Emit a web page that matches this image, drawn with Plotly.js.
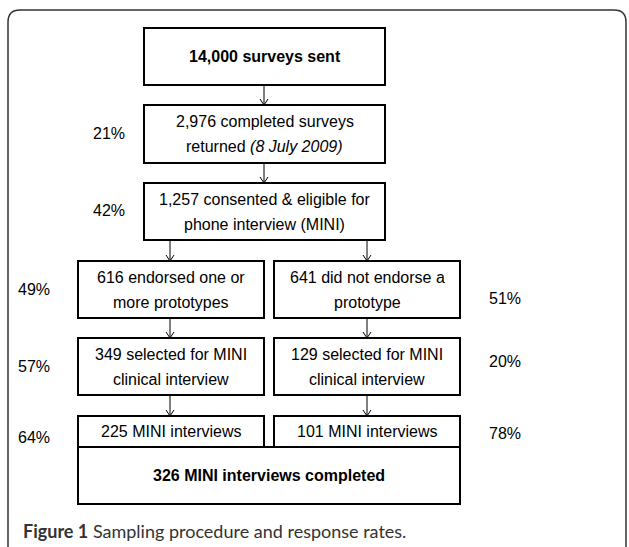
<!DOCTYPE html>
<html><head><meta charset="utf-8">
<script src="https://cdn.plot.ly/plotly-3.0.1.min.js"></script>
<style>html,body{margin:0;padding:0;background:#fff}#chart{width:629px;height:547px}</style>
</head><body><div id="chart"></div>
<script>
// ---- content (data) ----
const boxLines = [
  ["<b>14,000 surveys sent</b>"],
  ["2,976 completed surveys", "returned <i>(8 July 2009)</i>"],
  ["1,257 consented & eligible for", "phone interview (MINI)"],
  ["616 endorsed one or", "more prototypes"],
  ["641 did not endorse a", "prototype"],
  ["349 selected for MINI", "clinical interview"],
  ["129 selected for MINI", "clinical interview"],
  ["225 MINI interviews"],
  ["101 MINI interviews"],
  ["<b>326 MINI interviews completed</b>"]
];
const rateLabels = ["21%", "42%", "49%", "51%", "57%", "20%", "64%", "78%"];
const captionBold = "Figure 1";
const captionText = "Sampling procedure and response rates.";

// ---- layout geometry (pixel-like coordinate frame) ----
const boxGeom = [
  [144, 28, 385, 85], [144, 105, 385, 163], [144, 183, 385, 240],
  [78, 261, 264, 318], [274, 261, 460, 318],
  [78, 338, 264, 395], [274, 338, 460, 395],
  [78, 416, 264, 447], [274, 416, 460, 447],
  [78, 447, 460, 504]
];
const arrowGeom = [
  [264, 85, 105], [264, 163, 183],
  [170, 240, 261], [367, 240, 261],
  [170, 318, 338], [367, 318, 338],
  [170, 395, 416], [367, 395, 416]
];
const rateX = [109, 109, 34, 505, 34, 505, 34, 505];
const rateY = [135, 212, 291, 300, 368, 363, 439, 435];

const FONT = "'Liberation Sans Narrow', 'Arial Narrow', sans-serif";
const shapes = [];
const annotations = [];

// outer rounded frame
const r = 12, fx0 = 8, fy0 = 10, fx1 = 626, fy1 = 560;
shapes.push({type: "path", xref: "x", yref: "y",
  path: `M ${fx0} ${fy1} L ${fx0} ${fy0 + r} Q ${fx0} ${fy0} ${fx0 + r} ${fy0} L ${fx1 - r} ${fy0} Q ${fx1} ${fy0} ${fx1} ${fy0 + r} L ${fx1} ${fy1}`,
  line: {color: "#333", width: 1.5}});

boxGeom.forEach((g, i) => {
  shapes.push({type: "rect", xref: "x", yref: "y", x0: g[0], y0: g[1], x1: g[2], y1: g[3],
    line: {color: "#000", width: 2}, fillcolor: "rgba(0,0,0,0)"});
  const lines = boxLines[i];
  const cx = (g[0] + g[2]) / 2, cy = (g[1] + g[3]) / 2;
  const step = 25;
  lines.forEach((t, k) => {
    annotations.push({x: cx, y: cy + (k - (lines.length - 1) / 2) * step, xref: "x", yref: "y",
      text: t, showarrow: false, xanchor: "center", yanchor: "middle",
      font: {family: FONT, size: 16, color: "#000"}});
  });
});

arrowGeom.forEach(a => {
  const [x, y0, y1] = a;
  shapes.push({type: "line", xref: "x", yref: "y", x0: x, y0: y0, x1: x, y1: y1,
    line: {color: "#000", width: 1}});
  shapes.push({type: "path", xref: "x", yref: "y",
    path: `M ${x - 4} ${y1 - 6} L ${x} ${y1} L ${x + 4} ${y1 - 6}`,
    line: {color: "#000", width: 1}});
});

annotations.push({x: 21, y: 531, xref: "x", yref: "y", xanchor: "left", yanchor: "middle",
  showarrow: false, text: `<b>${captionBold}</b> ${captionText}`,
  font: {family: "Lato, sans-serif", size: 18, color: "#333"}});

const data = [{
  type: "scatter", mode: "text", x: rateX, y: rateY, text: rateLabels,
  textposition: "middle center", hoverinfo: "skip", showlegend: false,
  textfont: {family: FONT, size: 16, color: "#000"}
}];

const layout = {
  width: 629, height: 547, margin: {l: 0, r: 0, t: 0, b: 0},
  paper_bgcolor: "#fff", plot_bgcolor: "#fff",
  xaxis: {range: [0, 629], visible: false, fixedrange: true},
  yaxis: {range: [547, 0], visible: false, fixedrange: true},
  shapes: shapes, annotations: annotations, showlegend: false
};
Plotly.newPlot("chart", data, layout, {staticPlot: true, displayModeBar: false});
</script></body></html>
